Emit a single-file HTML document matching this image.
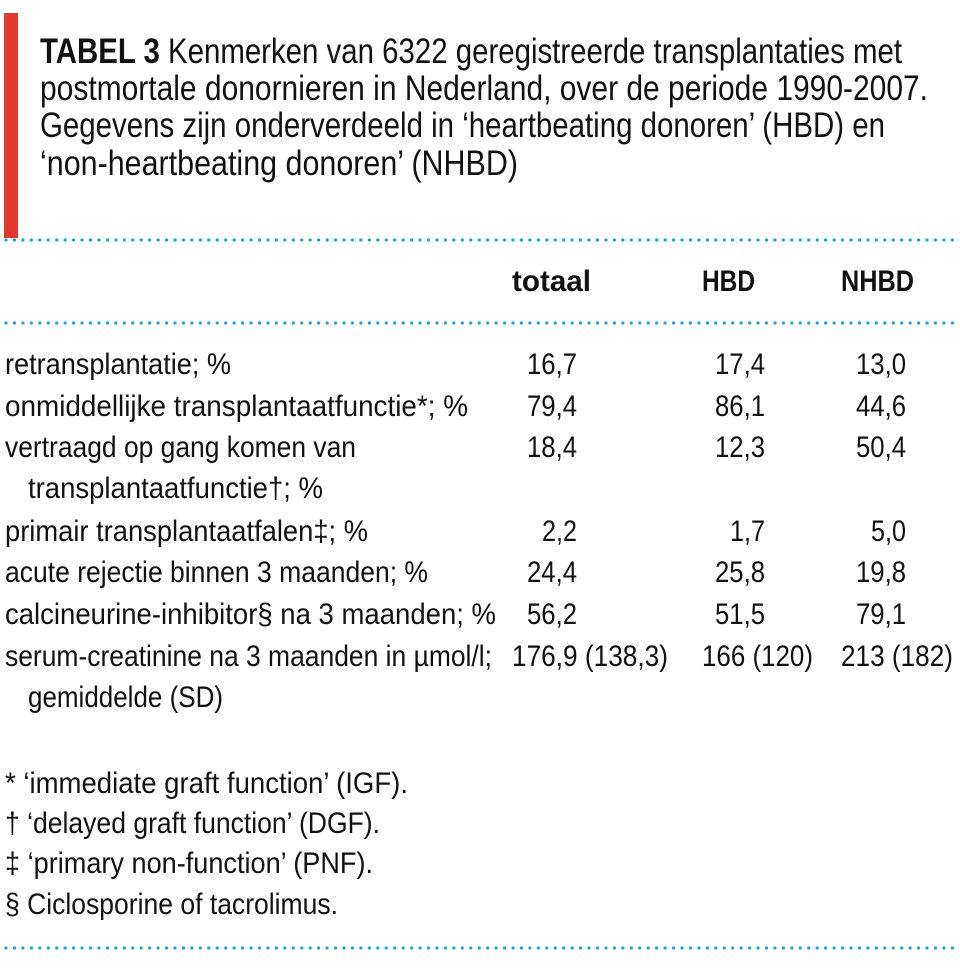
<!DOCTYPE html>
<html><head><meta charset="utf-8"><style>
html,body{margin:0;padding:0;background:#fff;}
svg{display:block;}
text{font-family:"Liberation Sans",sans-serif;fill:#111;}
</style></head><body>
<svg width="960" height="971" viewBox="0 0 960 971" xmlns="http://www.w3.org/2000/svg">
<rect x="4" y="13" width="14" height="225" fill="#e03a2f"/>
<g stroke="#1ba3dc" stroke-width="3.2" stroke-linecap="round" stroke-dasharray="0 8.45">
<line x1="6" y1="240" x2="956" y2="240"/>
<line x1="6" y1="323" x2="956" y2="323"/>
<line x1="6" y1="948" x2="956" y2="948"/>
</g>
<g font-size="35">
<text x="40" y="63" textLength="862" lengthAdjust="spacingAndGlyphs"><tspan font-weight="bold">TABEL 3</tspan> Kenmerken van 6322 geregistreerde transplantaties met</text>
<text x="40" y="100" textLength="888" lengthAdjust="spacingAndGlyphs">postmortale donornieren in Nederland, over de periode 1990-2007.</text>
<text x="40" y="137" textLength="845" lengthAdjust="spacingAndGlyphs">Gegevens zijn onderverdeeld in ‘heartbeating donoren’ (HBD) en</text>
<text x="40" y="175" textLength="478" lengthAdjust="spacingAndGlyphs">‘non-heartbeating donoren’ (NHBD)</text>
</g>
<g font-size="30" font-weight="bold">
<text x="512" y="291" textLength="79" lengthAdjust="spacingAndGlyphs">totaal</text>
<text x="702" y="291" textLength="53" lengthAdjust="spacingAndGlyphs">HBD</text>
<text x="841" y="291" textLength="73" lengthAdjust="spacingAndGlyphs">NHBD</text>
</g>
<g font-size="30">
<text x="5" y="374" textLength="226" lengthAdjust="spacingAndGlyphs">retransplantatie; %</text>
<text x="5" y="416" textLength="463" lengthAdjust="spacingAndGlyphs">onmiddellijke transplantaatfunctie*; %</text>
<text x="5" y="457" textLength="351" lengthAdjust="spacingAndGlyphs">vertraagd op gang komen van</text>
<text x="28" y="498" textLength="295" lengthAdjust="spacingAndGlyphs">transplantaatfunctie†; %</text>
<text x="5" y="541" textLength="363" lengthAdjust="spacingAndGlyphs">primair transplantaatfalen‡; %</text>
<text x="5" y="582" textLength="423" lengthAdjust="spacingAndGlyphs">acute rejectie binnen 3 maanden; %</text>
<text x="5" y="624" textLength="491" lengthAdjust="spacingAndGlyphs">calcineurine-inhibitor§ na 3 maanden; %</text>
<text x="5" y="666" textLength="487" lengthAdjust="spacingAndGlyphs">serum-creatinine na 3 maanden in µmol/l;</text>
<text x="28" y="707" textLength="195" lengthAdjust="spacingAndGlyphs">gemiddelde (SD)</text>
</g>
<g font-size="30" text-anchor="end">
<text x="577" y="374" textLength="50" lengthAdjust="spacingAndGlyphs">16,7</text>
<text x="765" y="374" textLength="50" lengthAdjust="spacingAndGlyphs">17,4</text>
<text x="906" y="374" textLength="50" lengthAdjust="spacingAndGlyphs">13,0</text>
<text x="577" y="416" textLength="50" lengthAdjust="spacingAndGlyphs">79,4</text>
<text x="765" y="416" textLength="50" lengthAdjust="spacingAndGlyphs">86,1</text>
<text x="906" y="416" textLength="50" lengthAdjust="spacingAndGlyphs">44,6</text>
<text x="577" y="457" textLength="50" lengthAdjust="spacingAndGlyphs">18,4</text>
<text x="765" y="457" textLength="50" lengthAdjust="spacingAndGlyphs">12,3</text>
<text x="906" y="457" textLength="50" lengthAdjust="spacingAndGlyphs">50,4</text>
<text x="577" y="541" textLength="35" lengthAdjust="spacingAndGlyphs">2,2</text>
<text x="765" y="541" textLength="35" lengthAdjust="spacingAndGlyphs">1,7</text>
<text x="906" y="541" textLength="35" lengthAdjust="spacingAndGlyphs">5,0</text>
<text x="577" y="582" textLength="50" lengthAdjust="spacingAndGlyphs">24,4</text>
<text x="765" y="582" textLength="50" lengthAdjust="spacingAndGlyphs">25,8</text>
<text x="906" y="582" textLength="50" lengthAdjust="spacingAndGlyphs">19,8</text>
<text x="577" y="624" textLength="50" lengthAdjust="spacingAndGlyphs">56,2</text>
<text x="765" y="624" textLength="50" lengthAdjust="spacingAndGlyphs">51,5</text>
<text x="906" y="624" textLength="50" lengthAdjust="spacingAndGlyphs">79,1</text>
</g>
<g font-size="30">
<text x="512" y="666" textLength="156" lengthAdjust="spacingAndGlyphs">176,9 (138,3)</text>
<text x="702" y="666" textLength="111" lengthAdjust="spacingAndGlyphs">166 (120)</text>
<text x="841" y="666" textLength="112" lengthAdjust="spacingAndGlyphs">213 (182)</text>
</g>
<g font-size="30">
<text x="5" y="793" textLength="403" lengthAdjust="spacingAndGlyphs">* ‘immediate graft function’ (IGF).</text>
<text x="5" y="833" textLength="375" lengthAdjust="spacingAndGlyphs">† ‘delayed graft function’ (DGF).</text>
<text x="5" y="873" textLength="368" lengthAdjust="spacingAndGlyphs">‡ ‘primary non-function’ (PNF).</text>
<text x="5" y="914" textLength="333" lengthAdjust="spacingAndGlyphs">§ Ciclosporine of tacrolimus.</text>
</g>
</svg>
</body></html>
